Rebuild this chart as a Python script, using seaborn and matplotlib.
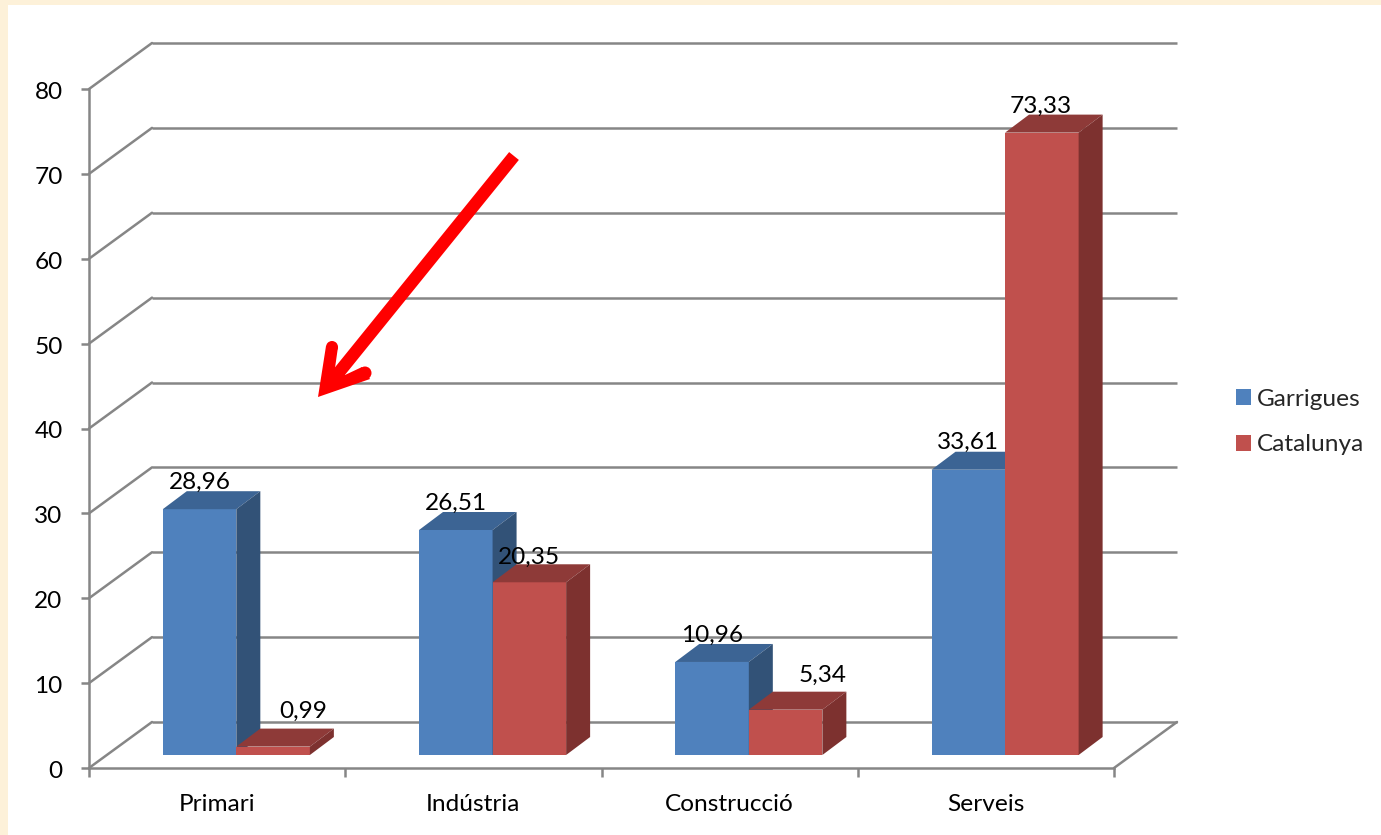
import matplotlib
matplotlib.use("Agg")
import matplotlib.pyplot as plt
import pandas as pd
import seaborn as sns
from matplotlib.lines import Line2D
from matplotlib.patches import Circle, Polygon, Rectangle
from matplotlib.transforms import Affine2D, IdentityTransform

# Values
sectors = ["Primari", "Indústria", "Construcció", "Serveis"]
garrigues = [28.96, 26.51, 10.96, 33.61]
catalunya = [0.99, 20.35, 5.34, 73.33]
zones = ["Garrigues", "Catalunya"]
y_ticks = [0, 10, 20, 30, 40, 50, 60, 70, 80]

# Colours (front, top, side)
zone_colors = {"Garrigues": ("#4F81BD", "#3C6494", "#325277"),
               "Catalunya": ("#C0504D", "#8E3A38", "#7D312F")}
grid_color = "#868686"
cream = "#FDF1D9"

W, H = 1381, 835
FS = 17.6
LW = 1.8


def py(y):
    # picture row to display y
    return H - y


sns.set_theme(style="white")
plt.rcParams["font.family"] = ["Lato", "DejaVu Sans"]

df = pd.DataFrame({
    "sector": sectors * 2,
    "zona": [zones[0]] * 4 + [zones[1]] * 4,
    "pct": garrigues + catalunya,
})

fig = plt.figure(figsize=(W / 100, H / 100), dpi=100, facecolor="white")
ax = fig.add_axes([89 / W, (H - 768) / H, 1025 / W, 679 / H])
ax.patch.set_alpha(0)

# Cream strip of the page behind the chart
fig.add_artist(Rectangle((0, 0), 8 / W, 1, transform=fig.transFigure, color=cream, lw=0))
fig.add_artist(Rectangle((0, 1 - 5 / H), 1, 5 / H, transform=fig.transFigure, color=cream, lw=0))

sns.barplot(data=df, x="sector", y="pct", hue="zona", order=sectors, hue_order=zones,
            palette=[zone_colors[z][0] for z in zones], saturation=1,
            width=0.574, gap=0, legend=False, ax=ax)

ax.set_xlim(-0.5, 3.5)
ax.set_ylim(0, 80)
ax.set_xlabel("")
ax.set_ylabel("")

# The fake 3D: walls sit behind the front axis, bars in the middle of the depth
wall_dx, wall_dy = 63, 46
bar_dx, bar_dy = 19.2, 13
depth_dx, depth_dy = 24, 18

wall_shift = ax.transData + Affine2D().translate(wall_dx, wall_dy)
bar_shift = ax.transData + Affine2D().translate(bar_dx, bar_dy)

ax.hlines(y_ticks, -0.5, 3.5, colors=grid_color, lw=LW, transform=wall_shift,
          clip_on=False, zorder=1)
for t in y_ticks:
    x0, y0 = ax.transData.transform((-0.5, t))
    ax.add_artist(Line2D([x0, x0 + wall_dx], [y0, y0 + wall_dy], color=grid_color, lw=LW,
                         transform=IdentityTransform(), clip_on=False, zorder=1))
x0, y0 = ax.transData.transform((3.5, 0))
ax.add_artist(Line2D([x0, x0 + wall_dx], [y0, y0 + wall_dy], color=grid_color, lw=LW,
                     transform=IdentityTransform(), clip_on=False, zorder=1))

# Small corrections for labels that sit beside the bar top
label_nudge = {"0,99": (30, 35), "5,34": (37, 34), "20,35": (0, 25), "73,33": (-1, 26)}

for i, (cont, zone) in enumerate(zip(ax.containers, zones)):
    front, top, side = zone_colors[zone]
    for bar in cont:
        bar.set_transform(bar_shift)
        bar.set_clip_on(False)
        bar.set_zorder(3 + i)
        bar.set_linewidth(0)
        x = bar.get_x()
        w = bar.get_width()
        h = bar.get_height()
        xl, yb = bar_shift.transform((x, 0))
        xr, yt = bar_shift.transform((x + w, h))
        ax.add_artist(Polygon([(xl, yt), (xr, yt), (xr + depth_dx, yt + depth_dy), (xl + depth_dx, yt + depth_dy)],
                              closed=True, fc=top, lw=0, transform=IdentityTransform(),
                              clip_on=False, zorder=3 + i))
        ax.add_artist(Polygon([(xr, yb), (xr, yt), (xr + depth_dx, yt + depth_dy), (xr + depth_dx, yb + depth_dy)],
                              closed=True, fc=side, lw=0, transform=IdentityTransform(),
                              clip_on=False, zorder=3 + i))
        label = f"{h:.2f}".replace(".", ",")
        nx, ny = label_nudge.get(label, (0, 27))
        ax.text((xl + xr) / 2 + nx, yt + ny, label, transform=IdentityTransform(), fontsize=FS,
                color="black", ha="center", va="center", zorder=8, clip_on=False)

# Axes
for s in ["top", "right"]:
    ax.spines[s].set_visible(False)
for s in ["left", "bottom"]:
    ax.spines[s].set_color(grid_color)
    ax.spines[s].set_linewidth(LW)

ax.set_yticks(y_ticks)
ax.set_xticks(range(4), sectors)
ax.set_xticks([-0.5, 0.5, 1.5, 2.5, 3.5], minor=True)
ax.tick_params(axis="y", left=True, length=6, width=LW, color=grid_color, labelsize=FS, pad=13,
               labelcolor="black")
ax.tick_params(axis="x", which="major", bottom=False, length=0, labelsize=FS, pad=19, labelcolor="black")
ax.tick_params(axis="x", which="minor", bottom=True, length=6.5, width=LW, color=grid_color)

# y labels sit a touch below their ticks in the original
for lab in ax.get_yticklabels():
    lab.set_transform(lab.get_transform() + Affine2D().translate(0, -1.5))

# Legend
handles = [Rectangle((0, 0), 1, 1, fc=zone_colors[z][0], lw=0) for z in zones]
fig.legend(handles, zones, loc="center left", bbox_to_anchor=(1229 / W, 1 - 422 / H),
           frameon=False, fontsize=FS, handlelength=0.61, handleheight=0.61,
           handletextpad=0.25, labelspacing=1.02, borderpad=0.3, borderaxespad=0)

# Red arrow pasted on top of the chart
red = "#FF0000"
arrow_tip = (318, 397)
ax.add_artist(Line2D([514, 336], [py(156), py(376)], color=red, lw=9, solid_capstyle="butt",
                     transform=IdentityTransform(), clip_on=False, zorder=9))
ax.add_artist(Polygon([(arrow_tip[0], py(arrow_tip[1])), (326, py(346)), (338, py(347)), (335, py(368)),
                       (345, py(375)), (362, py(367)), (370, py(379))],
                      closed=True, fc=red, lw=0, transform=IdentityTransform(),
                      clip_on=False, zorder=9))
ax.add_artist(Circle((332, py(347)), 6, fc=red, lw=0, transform=IdentityTransform(), clip_on=False, zorder=9))
ax.add_artist(Circle((365, py(373)), 6.5, fc=red, lw=0, transform=IdentityTransform(), clip_on=False, zorder=9))

fig.savefig("out.png", dpi=100, facecolor=fig.get_facecolor())
